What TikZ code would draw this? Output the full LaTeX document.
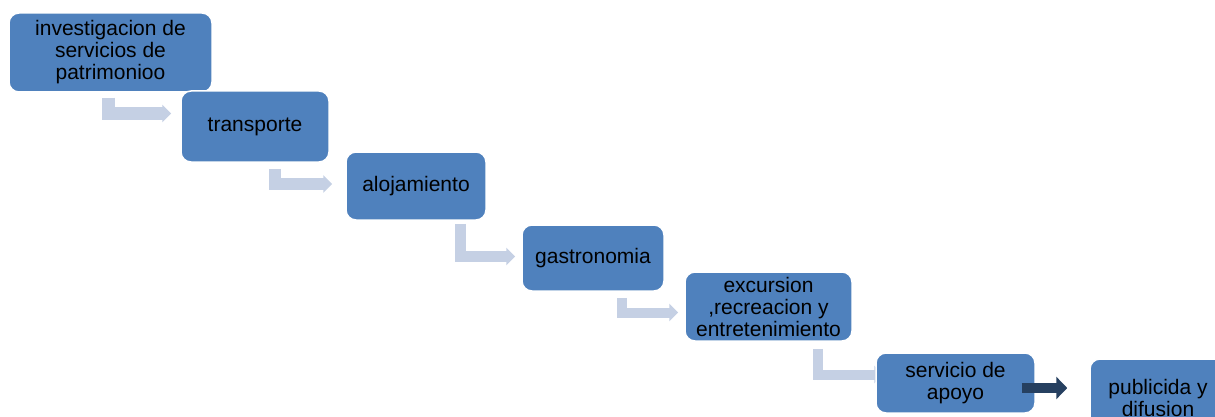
\documentclass[tikz,border=0pt]{standalone}
\usepackage{fontspec}
\setmainfont{Liberation Sans}
\usetikzlibrary{arrows.meta}
\usetikzlibrary{backgrounds}

\definecolor{boxblue}{RGB}{79,129,189}
\definecolor{lightbar}{RGB}{197,208,228}
\definecolor{darkbar}{RGB}{38,64,96}

\tikzset{
  stage/.style={rectangle, rounded corners=10pt, fill=boxblue, draw=white,
    line width=1.5pt, inner sep=0pt, align=center, text=black,
    font=\fontsize{21}{22}\selectfont},
  bentarrow/.style={draw=lightbar, line width=12pt, line join=miter,
    -{Triangle[width=17pt,length=9pt]}},
  lastarrow/.style={draw=darkbar, line width=10pt,
    -{Triangle[width=22pt,length=11pt]}}
}

\begin{document}
\begin{tikzpicture}[x=1pt,y=-1pt]
      \useasboundingbox (0,0) rectangle (1215,417);
      \clip (0,0) rectangle (1215,417);
      \node[stage, minimum width=203pt, minimum height=79pt] (invest) at (110.5,52.5) {investigacion de\\servicios de\\patrimonioo};
      \node[stage, minimum width=148pt, minimum height=71pt] (transp) at (255,126.5) {transporte};
      \node[stage, minimum width=140pt, minimum height=68pt] (aloja) at (416,186) {alojamiento};
      \node[stage, minimum width=142pt, minimum height=66pt] (gastro) at (593,258) {gastronomia};
      \node[stage, minimum width=167pt, minimum height=69pt] (excur) at (768.5,306.5) {excursion\\,recreacion y\\entretenimiento};
      \node[stage, minimum width=159pt, minimum height=60pt] (apoyo) at (955.5,383) {servicio de\\apoyo};
      \node[stage, minimum width=136pt, minimum height=78pt] (difus) at (1158,398) {publicida y\\difusion};
      \begin{scope}[on background layer]
        \draw[bentarrow, line width=13pt] ([shift={(-2.5,5)}]invest.south) |- ([shift={(-9,-13)}]transp.west);
        \draw[bentarrow] ([shift={(20,6)}]transp.south) |- ([shift={(-13,-2)}]aloja.west);
        \draw[bentarrow, line width=11pt] ([shift={(44.5,3)}]aloja.south) |- ([shift={(-6,-1.5)}]gastro.west);
        \draw[bentarrow, line width=10pt] ([shift={(29,6)}]gastro.south) |- ([shift={(-6,6)}]excur.west);
        \draw[bentarrow, line width=10pt] ([shift={(49,7)}]excur.south) |- ([shift={(8,-8.5)}]apoyo.west);
      \end{scope}
      \draw[lastarrow] ([shift={(-14,5)}]apoyo.east) -- ([shift={(-22,-10)}]difus.west);
    \end{tikzpicture}
\end{document}
